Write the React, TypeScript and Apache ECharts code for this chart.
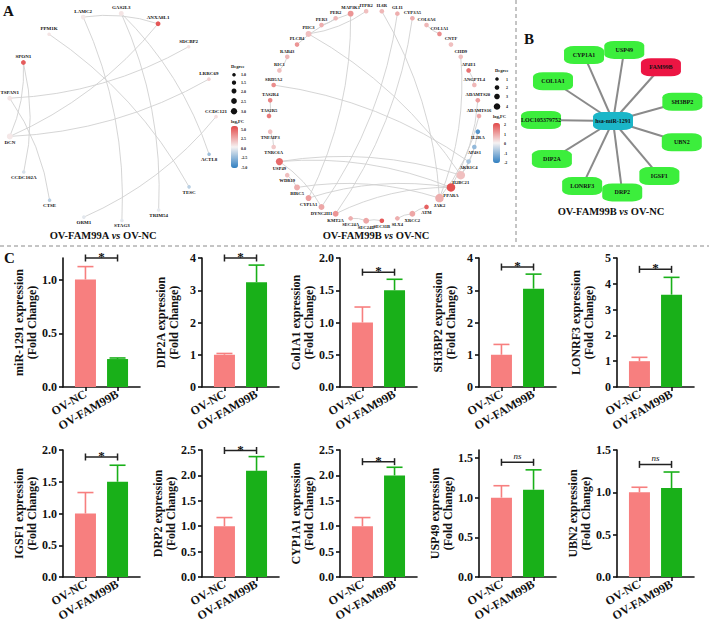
import React, { useEffect, useRef } from 'react';
import * as echarts from 'echarts';

const SERIF = "'Times New Roman', 'Liberation Serif', 'DejaVu Serif', serif";
const INK = '#111111';

// ---------------- Panel C : qPCR bars ----------------
const groups = ['OV-NC', 'OV-FAM99B'];
const groupColors = ['#f77f7f', '#19b019'];
const genes = ['miR-1291', 'DIP2A', 'Col1A1', 'SH3BP2', 'LONRF3', 'IGSF1', 'DRP2', 'CYP1A1', 'USP49', 'UBN2'];
const ncMean = [1, 1, 1, 1, 1, 1, 1, 1, 1, 1];
const ncSD = [0.12, 0.04, 0.24, 0.32, 0.15, 0.33, 0.17, 0.17, 0.15, 0.06];
const famMean = [0.26, 3.25, 1.5, 3.05, 3.58, 1.5, 2.09, 2.0, 1.1, 1.05];
const famSD = [0.01, 0.53, 0.17, 0.45, 0.67, 0.26, 0.28, 0.16, 0.25, 0.19];
const yMax = [1.2, 4, 2, 4, 5, 2, 2.5, 2.5, 1.6, 1.5];
const yTicks = [
  [0, 0.5, 1], [0, 1, 2, 3, 4], [0, 0.5, 1, 1.5, 2], [0, 1, 2, 3, 4], [0, 1, 2, 3, 4, 5],
  [0, 0.5, 1, 1.5, 2], [0, 0.5, 1, 1.5, 2, 2.5], [0, 0.5, 1, 1.5, 2, 2.5], [0, 0.5, 1, 1.5], [0, 0.5, 1, 1.5],
];
const tickDecimals = [1, 0, 1, 0, 0, 1, 1, 1, 1, 1];
const sigText = ['*', '*', '*', '*', '*', '*', '*', '*', 'ns', 'ns'];
const sigLevel = [1.2, 4.0, 1.78, 3.72, 4.56, 1.89, 2.49, 2.27, 1.445, 1.33];

// ---------------- Panel A (left) : OV-FAM99A vs OV-NC ----------------
const aLeftGenes = ['ACTL8', 'CCDC121', 'LRRC69', 'SDCBP2', 'ANXA8L1', 'GAS2L3', 'LAMC2', 'PPM1K', 'SPON1', 'TSPAN1', 'DCN', 'CCDC102A', 'CTSE', 'ORM1', 'STAG3', 'TRIM54', 'TESC'];
const aLeftFC = [-2.2, 0.6, 1.0, 0.5, 4.6, 0.4, 0.3, 0.4, 4.4, 0.4, 0.3, -0.8, -1.6, -0.5, -0.5, -0.4, -1.5];
const aLeftEdges = [
  ['LAMC2', 'STAG3'], ['GAS2L3', 'TRIM54'], ['GAS2L3', 'ACTL8'], ['PPM1K', 'TESC'], ['ANXA8L1', 'DCN'],
  ['LAMC2', 'ANXA8L1'], ['SDCBP2', 'TSPAN1'], ['LRRC69', 'DCN'], ['CCDC121', 'ORM1'], ['SPON1', 'DCN'],
  ['SPON1', 'CCDC102A'], ['TSPAN1', 'CTSE'],
];
const aLeftFcRange = [-5, 5];
const aLeftDegreeTicks = ['1.0', '1.5', '2.0', '2.5', '3.0'];
const aLeftFcTicks = ['5.0', '2.5', '0.0', '-2.5', '-5.0'];

// ---------------- Panel A (right) : OV-FAM99B vs OV-NC ----------------
const aRightGenes = ['ADAMTS16', 'ADAMTS20', 'ANGPTL4', 'AP4E1', 'CHD9', 'CNTF', 'COL1A1', 'COL6A6', 'CYP3A5', 'GLI1', 'IL6R', 'ITPR2', 'MAP3K1', 'PER2', 'PER3', 'PHC3', 'PLCB4', 'RAB43', 'RIC1', 'SRD5A2', 'TAS2R4', 'TAS2R5', 'TNFAIP3', 'TNRC6A', 'USP49', 'WDR19', 'BIRC5', 'CYP1A1', 'DYNC2H1', 'KMT2A', 'SEC24A', 'SEC24D', 'SEC31B', 'SLX4', 'XRCC2', 'ATM', 'JAK2', 'PPARA', 'H2BC21', 'AKR1C4', 'AP4S1', 'IL2RA'];
const aRightFC = [0.9, 1.0, 0.7, 1.5, 0.6, 0.6, 1.2, 0.7, 0.8, 0.8, 0.7, 0.6, 1.1, 0.7, 0.8, 0.6, 1.1, 0.7, 0.6, 1.2, 1.3, 1.4, 0.6, 0.5, 1.6, 0.6, 0.8, 1.0, 0.9, 1.1, 0.8, 0.9, 1.8, 0.8, 0.9, 1.7, 0.8, 1.9, 0.6, -0.8, -1.0, -1.6];
const aRightEdges = [
  ['ITPR2', 'PHC3'], ['PHC3', 'H2BC21'], ['SRD5A2', 'AKR1C4'], ['IL6R', 'JAK2'], ['MAP3K1', 'CYP1A1'],
  ['GLI1', 'DYNC2H1'], ['CYP3A5', 'KMT2A'], ['USP49', 'PPARA'], ['USP49', 'H2BC21'], ['USP49', 'DYNC2H1'],
  ['CYP1A1', 'PPARA'], ['KMT2A', 'PPARA'], ['BIRC5', 'JAK2'], ['AP4E1', 'ANGPTL4'], ['TAS2R4', 'TAS2R5'],
  ['SEC24D', 'SEC31B'], ['SEC24A', 'SEC24D'], ['ADAMTS20', 'PPARA'], ['ADAMTS16', 'JAK2'], ['IL2RA', 'H2BC21'],
  ['AP4S1', 'H2BC21'], ['XRCC2', 'ATM'], ['CHD9', 'JAK2'], ['PER2', 'PER3'], ['SLX4', 'XRCC2'],
  ['COL1A1', 'COL6A6'], ['TNFAIP3', 'TNRC6A'], ['WDR19', 'BIRC5'], ['RAB43', 'RIC1'], ['PLCB4', 'MAP3K1'],
];
const aRightFcRange = [-2, 2];
const aRightDegreeTicks = ['1', '2', '3', '4'];
const aRightFcTicks = ['2', '1', '0', '-1', '-2'];

// ---------------- Panel B : ceRNA network ----------------
const bCenter = 'hsa-miR-1291';
const bOuter = ['USP49', 'FAM99B', 'SH3BP2', 'UBN2', 'IGSF1', 'DRP2', 'LONRF3', 'DIP2A', 'LOC105379752', 'COL1A1', 'CYP1A1'];
const bOuterType = [2, 1, 2, 2, 2, 2, 2, 2, 2, 2, 2];
const bCategories = ['miRNA', 'lncRNA', 'mRNA'];
const bColors = ['#1bb6c8', '#ec1543', '#3cee3c'];

const fcColors = ['#2f7fc1', '#f6f2f2', '#e34848'];

function degreeOf(edges: string[][]) {
  const m: Record<string, number> = {};
  edges.forEach(([a, b]) => {
    m[a] = (m[a] || 0) + 1;
    m[b] = (m[b] || 0) + 1;
  });
  return m;
}

function fcColor(v: number, range: number[]) {
  const t = Math.max(0, Math.min(1, (v - range[0]) / (range[1] - range[0])));
  return echarts.color.lerp(t, fcColors) as string;
}

function fmtTick(v: number, d: number) {
  return d ? v.toFixed(1) : String(Math.round(v));
}

function txt(text: string, x: number, y: number, size: number, extra: any = {}) {
  return {
    type: 'text',
    x,
    y,
    silent: true,
    style: {
      text,
      fontSize: size,
      fontFamily: SERIF,
      fontWeight: 'bold',
      fill: INK,
      align: extra.align || 'left',
      textAlign: extra.align || 'left',
      verticalAlign: 'middle',
      textVerticalAlign: 'middle',
    },
  };
}

function titleText(x: number, y: number, left: string) {
  return {
    type: 'text',
    x,
    y,
    silent: true,
    style: {
      text: `{b|${left} }{i|vs}{b| OV-NC}`,
      align: 'center',
      textAlign: 'center',
      verticalAlign: 'middle',
      textVerticalAlign: 'middle',
      rich: {
        b: { fontSize: 10.5, fontWeight: 'bold', fontFamily: SERIF, fill: INK, color: INK },
        i: { fontSize: 10.5, fontWeight: 'bold', fontStyle: 'italic', fontFamily: SERIF, fill: INK, color: INK },
      },
    },
  };
}

// label side (above / below the node) from the node's place on the ring
function ringSide(i: number, n: number, startDeg: number, ccw: boolean) {
  const a = ((startDeg + (ccw ? 1 : -1) * (i * 360) / n) * Math.PI) / 180;
  return Math.sin(a) < -0.05 ? 'bottom' : 'top';
}

function ringGraph(polarIndex: number, names: string[], fc: number[], range: number[], edges: string[][], startDeg: number, base: number, step: number, fontSize: number) {
  const deg = degreeOf(edges);
  return {
    type: 'graph', coordinateSystem: 'polar', polarIndex, layout: 'none', silent: true,
    data: names.map((g, i) => ({
      name: g,
      value: [1, i, fc[i]],
      itemStyle: { color: fcColor(fc[i], range) },
      label: { position: ringSide(i, names.length, startDeg, true) },
    })),
    links: edges.map(([s, t]) => ({ source: s, target: t })),
    symbolSize: (_v: any, p: any) => base + ((deg[p.name] || 1) - 1) * step,
    label: { show: true, position: 'top', distance: 1, fontSize, fontWeight: 'bold', fontFamily: SERIF, color: INK },
    lineStyle: { color: '#d0d0d0', width: 0.9, curveness: 0.12, opacity: 1 },
    emphasis: { disabled: true },
  };
}

function buildOption() {
  const series: any[] = [];
  const aLeftStart = -21;
  const aRightStart = 0;

  series.push(ringGraph(0, aLeftGenes, aLeftFC, aLeftFcRange, aLeftEdges, aLeftStart, 3.6, 1.2, 5));
  series.push(ringGraph(1, aRightGenes, aRightFC, aRightFcRange, aRightEdges, aRightStart, 4.6, 1.3, 4.6));

  series.push({
    type: 'graph', coordinateSystem: 'polar', polarIndex: 2, layout: 'none', silent: true,
    categories: bCategories.map((c, k) => ({ name: c, itemStyle: { color: bColors[k] } })),
    data: [
      { name: bCenter, value: [0, 0], category: 0 },
      ...bOuter.map((g, i) => ({ name: g, value: [1, i], category: bOuterType[i] })),
    ],
    links: bOuter.map((g) => ({ source: bCenter, target: g })),
    symbol: 'roundRect',
    symbolSize: [40, 18],
    label: { show: true, position: 'inside', fontSize: 6, fontWeight: 'bold', fontFamily: SERIF, color: INK },
    lineStyle: { color: '#8a8a8a', width: 2, curveness: 0, opacity: 1 },
    emphasis: { disabled: true },
  });

  const gridLeft = [63, 202, 340, 479, 617];
  const rowTop = [258, 450];
  const rowHeight = [129, 127];

  const grid: any[] = [];
  const xAxis: any[] = [];
  const yAxis: any[] = [];

  genes.forEach((gene, i) => {
    const row = Math.floor(i / 5);
    grid.push({ left: gridLeft[i % 5], top: rowTop[row], width: 77, height: rowHeight[row], containLabel: false, outerBoundsMode: 'none' });
    const axisLine = { show: true, onZero: false, lineStyle: { color: INK, width: 1.6 } };
    xAxis.push({
      gridIndex: i, type: 'value', min: -0.7, max: 1.7,
      splitLine: { show: false },
      axisLine,
      axisTick: { show: true, customValues: [0, 1], length: 4, lineStyle: { color: INK, width: 1.6 } },
      axisLabel: {
        customValues: [0, 1], formatter: (v: number) => groups[Math.round(v)] || '',
        rotate: 30, margin: 6, fontFamily: SERIF, fontWeight: 'bold', fontSize: 12, color: INK,
      },
    });
    yAxis.push({
      gridIndex: i, type: 'value', min: 0, max: yMax[i],
      splitLine: { show: false },
      axisLine,
      axisTick: { show: true, customValues: yTicks[i], length: 4, lineStyle: { color: INK, width: 1.6 } },
      axisLabel: {
        customValues: yTicks[i], formatter: (v: number) => fmtTick(v, tickDecimals[i]),
        margin: 6, fontFamily: SERIF, fontWeight: 'bold', fontSize: 12, color: INK,
      },
      name: `${gene} expression\n(Fold Change)`,
      nameLocation: 'middle', nameGap: 22,
      nameTextStyle: { fontFamily: SERIF, fontWeight: 'bold', fontSize: 12, lineHeight: 12.5, color: INK },
    });

    series.push({
      type: 'bar', xAxisIndex: i, yAxisIndex: i, barWidth: 21, silent: true,
      data: [
        { value: [0, ncMean[i]], itemStyle: { color: groupColors[0] } },
        { value: [1, famMean[i]], itemStyle: { color: groupColors[1] } },
      ],
    });

    series.push({
      type: 'custom', xAxisIndex: i, yAxisIndex: i, silent: true, clip: false, z: 3,
      data: [
        [0, ncMean[i], ncMean[i] + ncSD[i], 0],
        [1, famMean[i], famMean[i] + famSD[i], 1],
      ],
      encode: { x: 0, y: [1, 2] },
      renderItem: (_p: any, api: any) => {
        const x = api.value(0);
        const lo = api.coord([x, api.value(1)]);
        const hi = api.coord([x, api.value(2)]);
        const c = groupColors[api.value(3)];
        return {
          type: 'group',
          children: [
            { type: 'line', shape: { x1: lo[0], y1: lo[1], x2: hi[0], y2: hi[1] }, style: { stroke: c, lineWidth: 1.6 } },
            { type: 'line', shape: { x1: hi[0] - 8, y1: hi[1], x2: hi[0] + 8, y2: hi[1] }, style: { stroke: c, lineWidth: 1.6 } },
          ],
        };
      },
    });

    const label = sigText[i];
    series.push({
      type: 'custom', xAxisIndex: i, yAxisIndex: i, silent: true, clip: false, z: 4,
      data: [[0, 1, sigLevel[i]]],
      encode: { x: [0, 1], y: 2 },
      renderItem: (_p: any, api: any) => {
        const y = api.value(2);
        const a = api.coord([api.value(0), y]);
        const b = api.coord([api.value(1), y]);
        const isStar = label === '*';
        const st = { stroke: '#222', lineWidth: 1.5 };
        return {
          type: 'group',
          children: [
            { type: 'line', shape: { x1: a[0], y1: a[1], x2: b[0], y2: b[1] }, style: st },
            { type: 'line', shape: { x1: a[0], y1: a[1] - 3.5, x2: a[0], y2: a[1] + 3.5 }, style: st },
            { type: 'line', shape: { x1: b[0], y1: b[1] - 3.5, x2: b[0], y2: b[1] + 3.5 }, style: st },
            {
              type: 'text', x: (a[0] + b[0]) / 2, y: isStar ? a[1] + 5 : a[1] - 2,
              style: {
                text: label, fill: INK, fontFamily: SERIF,
                fontSize: isStar ? 13 : 9, fontWeight: isStar ? 'bold' : 'normal', fontStyle: isStar ? 'normal' : 'italic',
                align: 'center', textAlign: 'center', verticalAlign: 'bottom', textVerticalAlign: 'bottom',
              },
            },
          ],
        };
      },
    });
  });

  const graphic: any[] = [];
  graphic.push({ type: 'line', silent: true, shape: { x1: 0, y1: 246, x2: 709, y2: 246 }, style: { stroke: '#8a8a8a', lineWidth: 1, lineDash: [4, 3] } });
  graphic.push({ type: 'line', silent: true, shape: { x1: 516, y1: 0, x2: 516, y2: 244 }, style: { stroke: '#8a8a8a', lineWidth: 1, lineDash: [4, 3] } });
  graphic.push(txt('A', 3, 11, 15));
  graphic.push(txt('B', 524, 39, 15));
  graphic.push(txt('C', 4, 258, 15));
  graphic.push(titleText(103, 235, 'OV-FAM99A'));
  graphic.push(titleText(376, 235, 'OV-FAM99B'));
  graphic.push(titleText(611, 211, 'OV-FAM99B'));

  graphic.push(txt('Degree', 231, 66, 4.5));
  const dlY = [74.7, 82.7, 91, 101, 111.3];
  aLeftDegreeTicks.forEach((t, k) => {
    graphic.push({ type: 'circle', silent: true, shape: { cx: 234, cy: dlY[k], r: 1.8 + k * 0.35 }, style: { fill: INK } });
    graphic.push(txt(t, 241, dlY[k], 4));
  });
  graphic.push(txt('log\u2082FC', 231, 121, 4.5));
  aLeftFcTicks.forEach((t, k) => graphic.push(txt(t, 241, 129 + k * 9.5, 4)));

  graphic.push(txt('Degree', 495, 70, 4.5));
  const drY = [79, 87.5, 96.5, 106.5];
  aRightDegreeTicks.forEach((t, k) => {
    graphic.push({ type: 'circle', silent: true, shape: { cx: 497, cy: drY[k], r: 1.8 + k * 0.5 }, style: { fill: INK } });
    graphic.push(txt(t, 506, drY[k], 4));
  });
  graphic.push(txt('log\u2082FC', 493, 116, 4.5));
  aRightFcTicks.forEach((t, k) => graphic.push(txt(t, 504, 124.5 + k * 9.5, 4)));

  return {
    animation: false,
    backgroundColor: '#ffffff',
    textStyle: { fontFamily: SERIF },
    polar: [
      { center: [112, 117], radius: [0, 104] },
      { center: [374, 116], radius: [0, 105] },
      { center: [613, 121], radius: [0, 72] },
    ],
    angleAxis: [
      { polarIndex: 0, type: 'category', data: aLeftGenes, boundaryGap: false, startAngle: aLeftStart, clockwise: false, show: false },
      { polarIndex: 1, type: 'category', data: aRightGenes, boundaryGap: false, startAngle: aRightStart, clockwise: false, show: false },
      { polarIndex: 2, type: 'category', data: bOuter, boundaryGap: false, startAngle: 81, clockwise: true, show: false },
    ],
    radiusAxis: [
      { polarIndex: 0, type: 'value', min: 0, max: 1, show: false },
      { polarIndex: 1, type: 'value', min: 0, max: 1, show: false },
      { polarIndex: 2, type: 'value', min: 0, max: 1, show: false },
    ],
    visualMap: [
      {
        type: 'continuous', seriesIndex: [], min: aLeftFcRange[0], max: aLeftFcRange[1], calculable: false, hoverLink: false,
        inRange: { color: fcColors }, left: 231, top: 126, itemWidth: 7, itemHeight: 42, padding: 0,
      },
      {
        type: 'continuous', seriesIndex: [], min: aRightFcRange[0], max: aRightFcRange[1], calculable: false, hoverLink: false,
        inRange: { color: fcColors }, left: 493, top: 123, itemWidth: 7, itemHeight: 40, padding: 0,
      },
    ],
    grid,
    xAxis,
    yAxis,
    series,
    graphic,
  };
}

export default function App() {
  const ref = useRef<HTMLDivElement>(null);
  useEffect(() => {
    document.body.style.margin = '0';
    if (!ref.current) return;
    const chart = echarts.init(ref.current, undefined, { renderer: 'svg' });
    chart.setOption(buildOption() as any);
    return () => chart.dispose();
  }, []);
  return <div ref={ref} style={{ position: 'fixed', left: 0, top: 0, width: 709, height: 624, background: '#fff' }} />;
}
